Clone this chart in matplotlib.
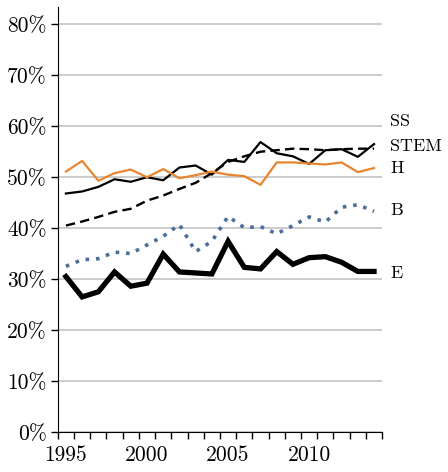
import matplotlib
matplotlib.use("Agg")
import matplotlib.pyplot as plt

plt.rcParams["font.family"] = ["cmr10", "DejaVu Serif"]
plt.rcParams["mathtext.fontset"] = "cm"
plt.rcParams["axes.unicode_minus"] = False

years = list(range(1995, 2015))

ss = [46.8, 47.2, 48.1, 49.6, 49.1, 50.0, 49.4, 51.9, 52.3, 50.5,
      53.4, 53.0, 56.9, 54.7, 54.1, 52.6, 55.3, 55.5, 54.0, 56.5]
stem = [40.5, 41.3, 42.2, 43.2, 43.8, 45.4, 46.4, 47.7, 48.9, 50.8,
        53.0, 54.1, 55.0, 55.3, 55.6, 55.5, 55.3, 55.5, 55.6, 55.6]
hum = [51.1, 53.2, 49.3, 50.8, 51.5, 50.0, 51.6, 49.8, 50.4, 51.1,
       50.5, 50.2, 48.5, 52.9, 52.9, 52.7, 52.5, 52.9, 51.0, 51.8]
bus = [32.5, 33.8, 34.0, 35.3, 35.0, 36.7, 38.4, 40.7, 35.4, 37.4,
       42.3, 40.1, 40.3, 38.9, 40.5, 42.2, 41.2, 44.1, 44.6, 43.3]
edu = [30.5, 26.5, 27.5, 31.4, 28.6, 29.2, 34.9, 31.4, 31.2, 31.0,
       37.4, 32.3, 32.0, 35.4, 32.9, 34.2, 34.4, 33.3, 31.5, 31.5]

series_names = ["SS", "STEM", "H", "B", "E"]
label_y = {"SS": 61.0, "STEM": 56.1, "H": 51.8, "B": 43.5, "E": 31.2}
y_ticks = [0, 10, 20, 30, 40, 50, 60, 70, 80]
x_labels = ["1995", "2000", "2005", "2010"]

fig = plt.figure(figsize=(4.48, 4.72), dpi=100)
ax = fig.add_axes([0.129, 0.085, 0.724, 0.9])

x = list(range(len(years)))
ax.plot(x, ss, color="black", lw=1.6)
ax.plot(x, stem, color="black", lw=1.7, dashes=(4, 2.2))
ax.plot(x, hum, color="#e8852f", lw=1.6)
ax.plot(x, bus, color="#4a6f9a", lw=2.6, linestyle=(0, (1, 1.9)))
ax.plot(x, edu, color="black", lw=3.8, solid_joinstyle="miter")

for name in series_names:
    ax.annotate(name, xy=(19.5, label_y[name]), xytext=(6, 0),
                textcoords="offset points", va="center", ha="left",
                fontsize=13, annotation_clip=False)

ax.set_xlim(-0.5, 19.5)
ax.set_ylim(0, 83.4)

ax.set_xticks([i - 0.5 for i in range(len(years) + 1)])
ax.set_xticklabels([])
ax.set_xticks([years.index(int(s)) for s in x_labels], minor=True)
ax.set_xticklabels(x_labels, minor=True, fontsize=15.5)
ax.tick_params(axis="x", which="major", length=5, width=1, direction="out")
ax.tick_params(axis="x", which="minor", length=0, pad=10)

ax.set_yticks(y_ticks)
ax.set_yticklabels(["{}%".format(v) for v in y_ticks], fontsize=15.5)
ax.tick_params(axis="y", length=5, width=1, pad=3)

ax.grid(axis="y", color="#cccccc", lw=1.4)
ax.set_axisbelow(True)
for side in ["top", "right"]:
    ax.spines[side].set_visible(False)

fig.savefig("out.png", dpi=100)
